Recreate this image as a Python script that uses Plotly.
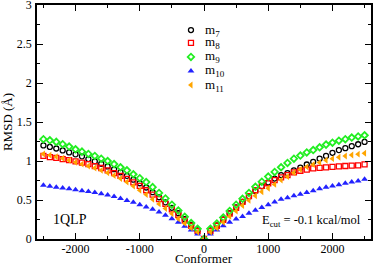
import plotly.graph_objects as go

conformer = list(range(-2500, 2501, 100))

m7 = [1.20, 1.18, 1.16, 1.135, 1.11, 1.085, 1.06, 1.025, 0.995, 0.965, 0.93, 0.895, 0.855, 0.81, 0.76, 0.715, 0.66, 0.60, 0.535, 0.47, 0.40, 0.33, 0.255, 0.18, 0.11,
      0.0,
      0.11, 0.175, 0.25, 0.33, 0.405, 0.475, 0.545, 0.615, 0.675, 0.725, 0.775, 0.82, 0.845, 0.88, 0.915, 0.955, 0.99, 1.03, 1.065, 1.105, 1.14, 1.165, 1.19, 1.215, 1.245]

m8 = [1.065, 1.05, 1.04, 1.025, 1.01, 0.995, 0.98, 0.96, 0.935, 0.91, 0.88, 0.845, 0.81, 0.77, 0.725, 0.68, 0.625, 0.57, 0.51, 0.45, 0.38, 0.31, 0.24, 0.17, 0.10,
      0.0,
      0.10, 0.17, 0.245, 0.325, 0.40, 0.475, 0.55, 0.625, 0.68, 0.715, 0.755, 0.79, 0.82, 0.855, 0.875, 0.89, 0.905, 0.912, 0.918, 0.925, 0.93, 0.936, 0.94, 0.945, 0.957]

m9 = [1.28, 1.265, 1.245, 1.215, 1.185, 1.15, 1.12, 1.09, 1.065, 1.03, 1.0, 0.96, 0.92, 0.88, 0.83, 0.78, 0.73, 0.665, 0.59, 0.52, 0.44, 0.365, 0.285, 0.205, 0.13,
      0.0,
      0.13, 0.20, 0.275, 0.36, 0.44, 0.515, 0.59, 0.67, 0.735, 0.80, 0.86, 0.92, 0.975, 1.03, 1.07, 1.11, 1.14, 1.175, 1.21, 1.235, 1.26, 1.28, 1.30, 1.315, 1.33]

m10 = [0.69, 0.675, 0.665, 0.655, 0.645, 0.63, 0.62, 0.61, 0.595, 0.58, 0.565, 0.545, 0.52, 0.495, 0.47, 0.44, 0.41, 0.38, 0.345, 0.305, 0.26, 0.215, 0.165, 0.115, 0.065,
       0.0,
       0.065, 0.115, 0.17, 0.215, 0.255, 0.29, 0.33, 0.37, 0.405, 0.44, 0.475, 0.51, 0.53, 0.555, 0.575, 0.595, 0.62, 0.645, 0.665, 0.68, 0.695, 0.715, 0.73, 0.745, 0.765]

m11 = [1.09, 1.075, 1.055, 1.035, 1.01, 0.985, 0.96, 0.935, 0.91, 0.88, 0.85, 0.815, 0.775, 0.73, 0.68, 0.625, 0.57, 0.51, 0.45, 0.39, 0.325, 0.26, 0.20, 0.14, 0.09,
       0.0,
       0.09, 0.14, 0.215, 0.29, 0.36, 0.43, 0.495, 0.555, 0.605, 0.65, 0.70, 0.755, 0.80, 0.85, 0.89, 0.925, 0.955, 0.98, 1.01, 1.03, 1.047, 1.064, 1.077, 1.088, 1.10]

series_names = ["m<sub>7</sub>", "m<sub>8</sub>", "m<sub>9</sub>", "m<sub>10</sub>", "m<sub>11</sub>"]
x_ticks = [-2000, -1000, 0, 1000, 2000]
y_ticks = [0, 0.5, 1, 1.5, 2, 2.5, 3]
y_ticklabels = ["0", "0.5", "1", "1.5", "2", "2.5", "3"]

FONT = "Liberation Serif"

markers = [
    dict(symbol="circle-open", size=5, color="black", line=dict(width=1.3, color="black")),
    dict(symbol="square-open", size=5, color="#ff0000", line=dict(width=1.3, color="#ff0000")),
    dict(symbol="diamond-open", size=5, color="#22ee22", line=dict(width=1.8, color="#22ee22")),
    dict(symbol="triangle-up", size=6, color="#2222ff", line=dict(width=0)),
    dict(symbol="triangle-left", size=6, color="#ffa500", line=dict(width=0)),
]
values = [m7, m8, m9, m10, m11]

fig = go.Figure()
for name, ys, mk in zip(series_names, values, markers):
    fig.add_trace(go.Scatter(x=conformer, y=ys, mode="markers", name=name, marker=mk,
                             showlegend=False))

# hand-placed legend (overlay axes in plot-area fractions)
leg_x = 0.461
leg_text_x = 0.497
leg_rows = [0.893, 0.838, 0.778, 0.718, 0.658]
annotations = []
for name, mk, ry in zip(series_names, markers, leg_rows):
    fig.add_trace(go.Scatter(x=[leg_x], y=[ry], mode="markers", marker=mk, xaxis="x2", yaxis="y2",
                             showlegend=False, hoverinfo="skip"))
    annotations.append(dict(text=name, x=leg_text_x, y=ry, xref="x2", yref="y2", showarrow=False,
                            xanchor="left", yanchor="middle", font=dict(family=FONT, size=13)))

annotations += [
    dict(text="1QLP", x=-2380, y=0.256, xref="x", yref="y", showarrow=False,
         font=dict(family=FONT, size=14), xanchor="left", yanchor="middle"),
    dict(text="E<sub>cut</sub> = -0.1 kcal/mol", x=2480, y=0.23, xref="x", yref="y", showarrow=False,
         font=dict(family=FONT, size=12.5), xanchor="right", yanchor="middle"),
    dict(text="Conformer", x=0.5, y=-0.083, xref="paper", yref="paper", showarrow=False,
         font=dict(family=FONT, size=13), xanchor="center", yanchor="middle"),
]

axis_common = dict(
    showline=True, linecolor="black", linewidth=1.5, mirror="ticks",
    ticks="inside", ticklen=6, tickwidth=1, tickcolor="black",
    showgrid=False, zeroline=False, ticklabeloverflow="allow", automargin=False,
    tickfont=dict(family=FONT, size=12, color="black"),
)

fig.update_layout(
    width=374, height=265,
    margin=dict(l=37, r=3, t=5, b=26, autoexpand=False),
    paper_bgcolor="white", plot_bgcolor="white",
    font=dict(family=FONT, color="black"),
    xaxis=dict(range=[-2600, 2600], tickvals=x_ticks, ticktext=[str(v) for v in x_ticks],
               minor=dict(dtick=500, tick0=0, ticks="inside", ticklen=3, tickcolor="black"),
               ticklabelstandoff=-2,
               **axis_common),
    yaxis=dict(range=[0, 3], tickvals=y_ticks, ticktext=y_ticklabels,
               minor=dict(dtick=0.25, tick0=0, ticks="inside", ticklen=3, tickcolor="black"),
               title=dict(text="RMSD (Å)", font=dict(family=FONT, size=13), standoff=4),
               ticklabelstandoff=1,
               **axis_common),
    xaxis2=dict(range=[0, 1], overlaying="x", visible=False, fixedrange=True),
    yaxis2=dict(range=[0, 1], overlaying="y", visible=False, fixedrange=True),
    showlegend=False,
    annotations=annotations,
)

fig.write_html("out.html", config={"displayModeBar": False},
               post_script="document.body.style.margin='0';document.body.style.padding='0';")
